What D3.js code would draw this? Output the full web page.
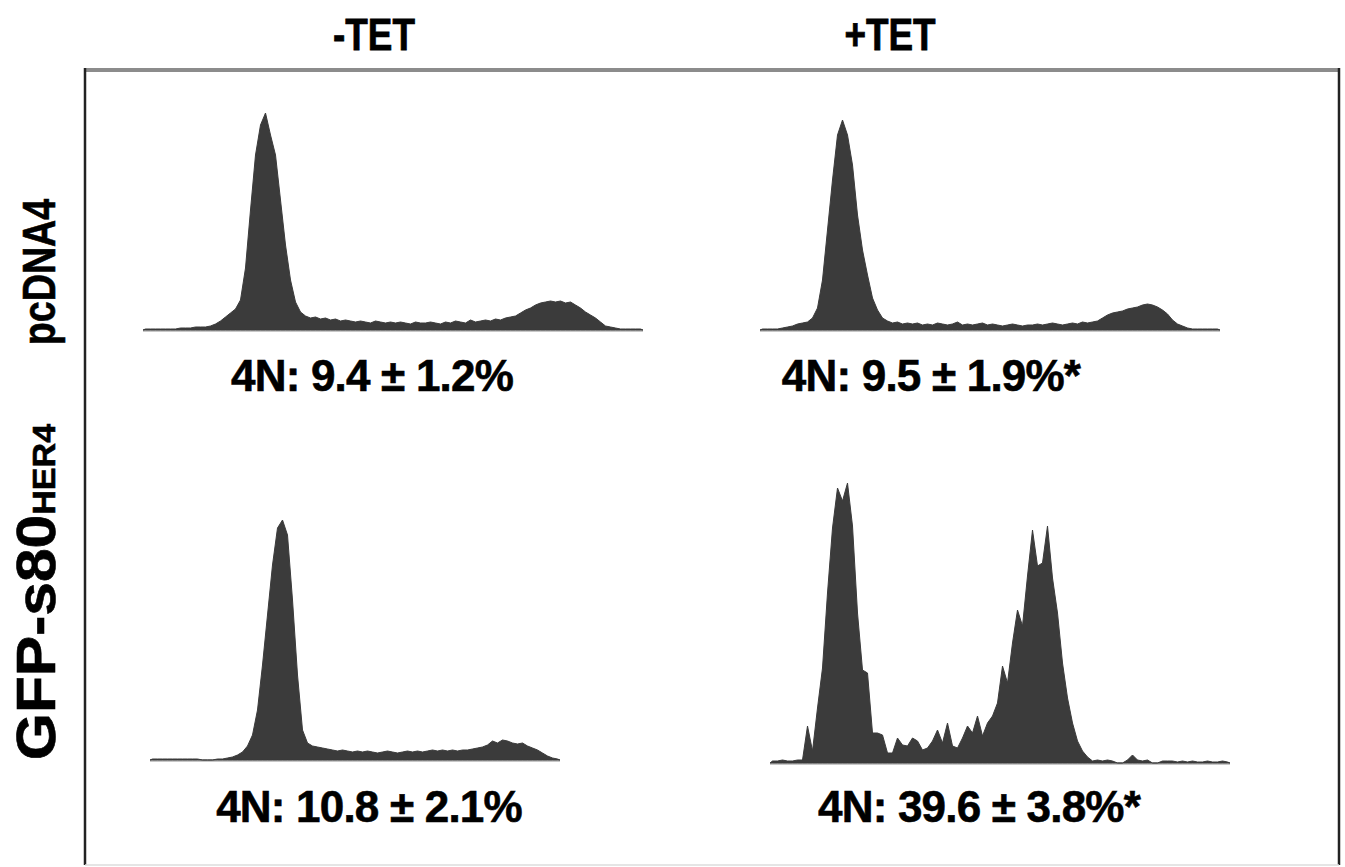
<!DOCTYPE html>
<html>
<head>
<meta charset="utf-8">
<script src="https://cdn.jsdelivr.net/npm/d3@7"></script>
<style>
  body { margin: 0; background: #fff; }
  svg { display: block; }
</style>
</head>
<body>
<svg id="plot"></svg>
<script>
// column / row headings
const columns = ["-TET", "+TET"];
const rows = ["pcDNA4", "GFP-s80"];
const rowSup = ["", "HER4"];

// 4N percentages shown under each histogram
const labels = [
  "4N: 9.4 \u00b1 1.2%",
  "4N: 9.5 \u00b1 1.9%*",
  "4N: 10.8 \u00b1 2.1%",
  "4N: 39.6 \u00b1 3.8%*"
];

// DNA content histograms (cell counts per channel bin)
const pcdnaMinus = [1,1,1,1,1,1,1,2,2,2,3,3,3,4,6,9,13,17,21,30,62,120,175,205,217,195,175,130,85,50,
  28,18,14,12,13,11,12,10,11,9,10,9,8,9,8,7,9,8,7,8,7,8,7,6,8,7,7,8,7,6,8,7,9,8,7,10,8,9,10,9,
  11,10,12,13,14,17,20,22,25,27,28,29,28,29,27,28,25,22,18,15,12,8,4,3,2,1,1,1,1,1];
const pcdnaPlus = [1,1,1,1,2,3,4,6,7,8,12,22,50,100,150,195,210,195,165,115,80,55,32,20,12,9,7,8,6,7,
  6,7,5,6,5,7,6,5,6,8,5,6,5,6,7,5,6,5,4,5,6,5,4,5,5,6,5,6,7,6,5,6,7,6,8,7,8,9,
  12,15,17,18,19,21,22,23,25,26,25,23,20,16,10,6,4,2,1,1,1,1,1,1];
const gfpMinus = [1,1,1,1,1,1,1,1,1,1,0,0,0,1,1,2,3,5,8,14,25,50,95,145,195,232,240,225,160,85,
  30,17,14,13,12,11,10,9,10,9,8,9,8,9,8,7,8,9,8,7,8,9,8,9,8,9,10,9,10,9,10,9,10,10,
  11,12,13,15,19,17,20,19,17,16,17,14,12,10,7,4,2,1];
const gfpPlus = [2,2,3,2,2,3,3,37,12,55,95,170,235,275,262,280,237,150,93,90,30,30,28,10,10,25,18,17,25,22,
  13,15,22,33,20,40,17,15,25,37,30,47,27,40,47,60,97,80,120,153,137,187,233,197,200,237,185,150,100,65,
  40,22,12,6,2,3,2,3,2,0,0,3,8,3,2,3,0,0,2,2,2,1,2,1,2,1,1,2,1,1,2,1];

const panels = [
  {data: pcdnaMinus, x0: 143, base: 330, label: labels[0], lx: 372, ly: 391},
  {data: pcdnaPlus,  x0: 760, base: 330, label: labels[1], lx: 931, ly: 391},
  {data: gfpMinus,   x0: 150, base: 760, label: labels[2], lx: 369, ly: 822},
  {data: gfpPlus,    x0: 770, base: 763, label: labels[3], lx: 979, ly: 822}
];

const width = 1345;
const height = 867;
const binW = 5;
const font = "Liberation Sans, Arial, Helvetica, sans-serif";

const svg = d3.select("#plot")
  .attr("width", width)
  .attr("height", height);

// frame
const frame = {left: 85, right: 1339, top: 70, bottom: 865};
svg.append("line")
  .attr("x1", frame.left).attr("x2", frame.right)
  .attr("y1", frame.top).attr("y2", frame.top)
  .attr("stroke", "#8c8c8c").attr("stroke-width", 4);
svg.append("line")
  .attr("x1", frame.left).attr("x2", frame.left)
  .attr("y1", frame.top - 2).attr("y2", frame.bottom)
  .attr("stroke", "#222").attr("stroke-width", 2.5);
svg.append("line")
  .attr("x1", frame.right).attr("x2", frame.right)
  .attr("y1", frame.top - 2).attr("y2", frame.bottom)
  .attr("stroke", "#222").attr("stroke-width", 2.5);
svg.append("line")
  .attr("x1", frame.left).attr("x2", frame.right)
  .attr("y1", frame.bottom).attr("y2", frame.bottom)
  .attr("stroke", "#ddd").attr("stroke-width", 1.5);

// column titles
const colX = [374, 890];
svg.selectAll(".col-title")
  .data(columns)
  .enter()
  .append("text")
  .attr("class", "col-title")
  .attr("transform", (d, i) => `translate(${colX[i]},50) scale(0.82,1)`)
  .attr("text-anchor", "middle")
  .attr("font-family", font)
  .attr("font-weight", "bold")
  .attr("font-size", 45)
  .attr("stroke", "#000")
  .attr("stroke-width", 0.8)
  .text(d => d);

// row titles (rotated)
const rowY = [272, 592];
const rowSize = [46, 55];
const rowSquash = [0.82, 1.1];
const rowText = svg.selectAll(".row-title")
  .data(rows)
  .enter()
  .append("text")
  .attr("class", "row-title")
  .attr("transform", (d, i) => `translate(55,${rowY[i]}) rotate(-90) scale(${rowSquash[i]},1)`)
  .attr("text-anchor", "middle")
  .attr("font-family", font)
  .attr("font-weight", "bold")
  .attr("stroke", "#000")
  .attr("stroke-width", 0.6)
  .attr("font-size", (d, i) => rowSize[i]);
rowText.append("tspan").text(d => d);
rowText.append("tspan")
  .attr("font-size", 31)
  .text((d, i) => rowSup[i]);

// histograms
const y = d3.scaleLinear().domain([0, 250]).range([0, 250]);

panels.forEach(p => {
  const n = p.data.length;
  const x = d3.scaleLinear().domain([0, n]).range([p.x0, p.x0 + n * binW]);
  const pts = [[0, 0]].concat(p.data.map((v, i) => [i + 0.5, v]), [[n, 0]]);

  const area = d3.area()
    .curve(d3.curveLinear)
    .x(d => x(d[0]))
    .y0(p.base)
    .y1(d => p.base - y(d[1]));

  const g = svg.append("g");

  g.append("line")
    .attr("x1", x(0)).attr("x2", x(n))
    .attr("y1", p.base + 1).attr("y2", p.base + 1)
    .attr("stroke", "#c8c8c8").attr("stroke-width", 2);

  g.append("path")
    .datum(pts)
    .attr("d", area)
    .attr("fill", "#3b3b3b")
    .attr("stroke", "#3b3b3b")
    .attr("stroke-width", 1);

  g.append("text")
    .attr("x", p.lx)
    .attr("y", p.ly)
    .attr("text-anchor", "middle")
    .attr("font-family", font)
    .attr("font-weight", "bold")
    .attr("font-size", 44)
    .attr("letter-spacing", -0.8)
    .attr("stroke", "#000")
    .attr("stroke-width", 0.6)
    .text(p.label);
});
</script>
</body>
</html>
